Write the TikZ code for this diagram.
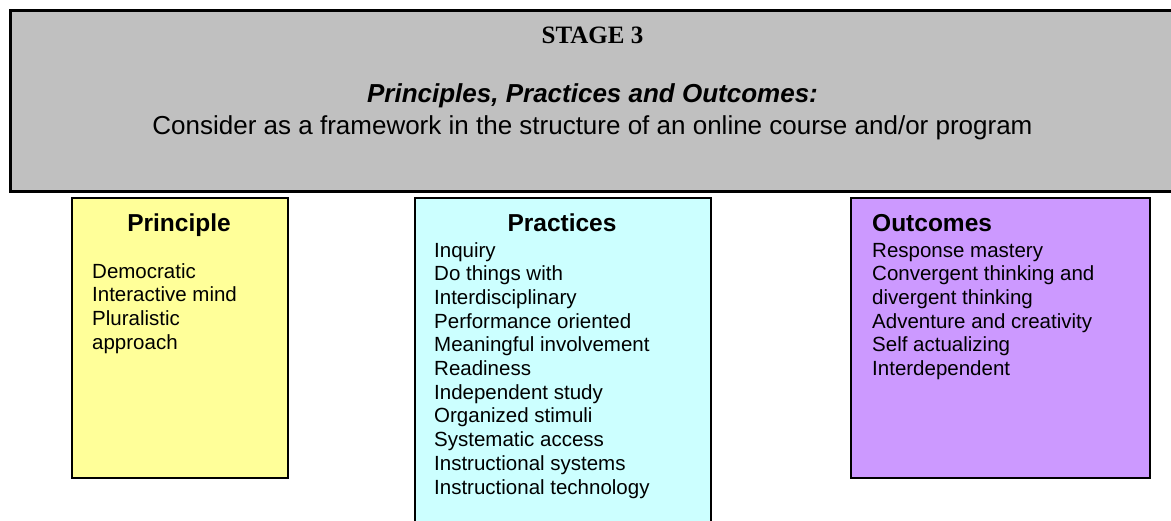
\documentclass[tikz,border=0pt]{standalone}
\usepackage{fontspec}
\setmainfont{Liberation Sans}
\newfontfamily\timesfont{Liberation Serif}
\definecolor{bannergray}{HTML}{C0C0C0}
\definecolor{pyellow}{HTML}{FFFF99}
\definecolor{pcyan}{HTML}{CCFFFF}
\definecolor{ppurple}{HTML}{CC99FF}
\tikzset{
  boxstyle/.style={draw=black, line width=1.5pt, anchor=north west, inner sep=0pt},
  headtext/.style={inner sep=0pt, font=\fontsize{26}{32}\selectfont},
  colhead/.style={inner sep=0pt, font=\fontsize{24.5}{29}\selectfont\bfseries},
  bodytext/.style={inner sep=0pt, anchor=base west, font=\fontsize{20.5}{23.7}\selectfont},
}
\begin{document}
\begin{tikzpicture}[x=1pt,y=-1pt]
\useasboundingbox (0,0) rectangle (1171,520);
\clip (0,0) rectangle (1171,520);
% banner
\node[boxstyle, fill=bannergray, line width=3pt, minimum width=1200pt, minimum height=181pt] (banner) at (9,9) {};
\node[headtext, anchor=base, font=\fontsize{25}{30}\selectfont\timesfont\bfseries] (stage) at (592.5,43) {STAGE 3};
\node[headtext, anchor=base, font=\fontsize{26}{32}\selectfont\bfseries\itshape] (ppo) at (592.5,102) {Principles, Practices and Outcomes:};
\node[headtext, anchor=base] (consider) at (592.5,134) {Consider as a framework in the structure of an online course and/or program};
% boxes
\node[boxstyle, fill=pyellow, minimum width=216pt, minimum height=280pt] (principlebox) at (71,197) {};
\node[boxstyle, fill=pcyan, minimum width=296pt, minimum height=340pt] (practicesbox) at (414,197) {};
\node[boxstyle, fill=ppurple, minimum width=299pt, minimum height=280pt] (outcomesbox) at (850,197) {};
% headings
\node[colhead, anchor=base] (principlehead) at (179,231) {Principle};
\node[colhead, anchor=base] (practiceshead) at (562,231) {Practices};
\node[colhead, anchor=base west] (outcomeshead) at (872,231) {Outcomes};
% principle items
\foreach \t [count=\i] in {Democratic, Interactive mind, Pluralistic, approach}
  \node[bodytext] (princ\i) at (92,{278+(\i-1)*23.7}) {\t};
% practices items
\foreach \t [count=\i] in {Inquiry, Do things with, Interdisciplinary, Performance oriented, Meaningful involvement, Readiness, Independent study, Organized stimuli, Systematic access, Instructional systems, Instructional technology}
  \node[bodytext] (prac\i) at (434,{257+(\i-1)*23.7}) {\t};
% outcomes items
\foreach \t [count=\i] in {Response mastery, Convergent thinking and, divergent thinking, Adventure and creativity, Self actualizing, Interdependent}
  \node[bodytext] (outc\i) at (872,{257+(\i-1)*23.7}) {\t};
\end{tikzpicture}
\end{document}
